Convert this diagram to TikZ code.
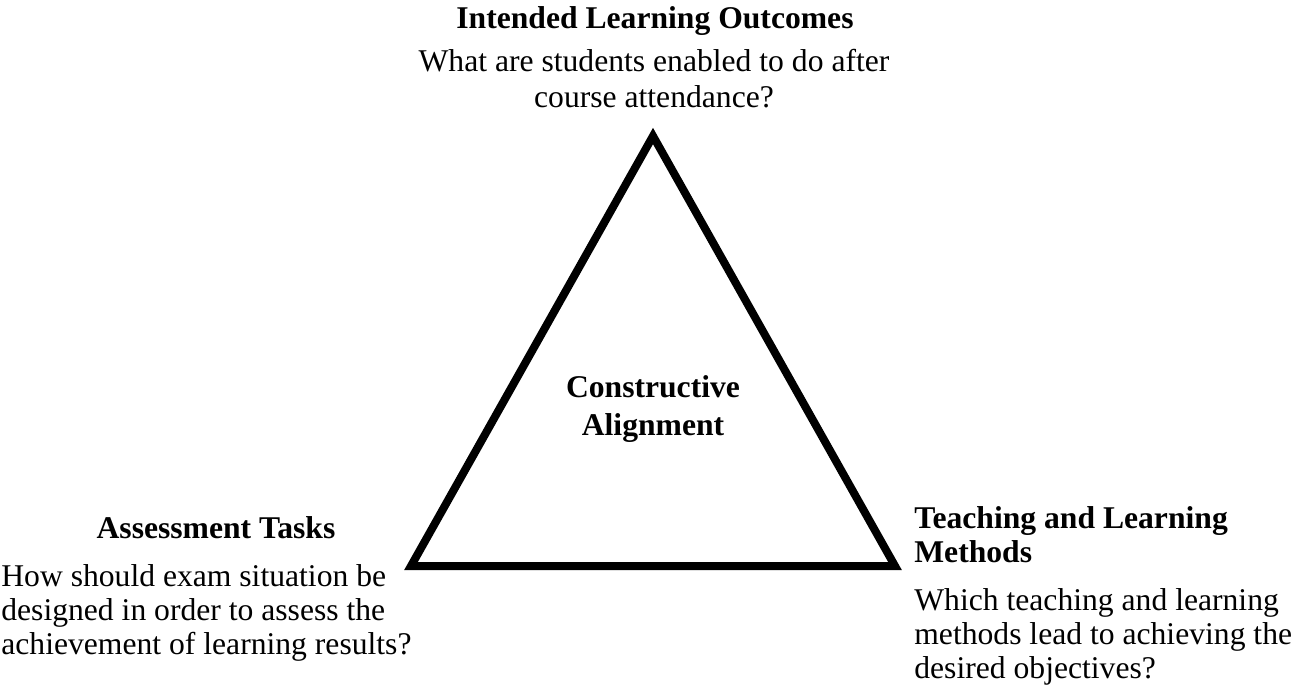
\documentclass[tikz,border=0pt]{standalone}
\usepackage{fontspec}
\setmainfont{Liberation Serif}
\usetikzlibrary{positioning}

\tikzset{
  headtext/.style={inner sep=0pt, font=\fontsize{18}{19}\selectfont\bfseries},
  asktext/.style={inner sep=0pt, font=\fontsize{18}{19.3}\selectfont}
}

\begin{document}
\begin{tikzpicture}
\useasboundingbox (0,0) rectangle (26,13.76);

% triangle
\coordinate (apex) at (13.06,11.04);
\coordinate (left) at (8.22,2.44);
\coordinate (right) at (17.9,2.44);
\draw [black, line width=0.16cm] (apex)--(left)--(right)--cycle;

% centre (base = last line)
\node[headtext, align=center, anchor=base, font=\fontsize{18}{21.5}\selectfont\bfseries] (centre) at (13.06,5.06)
{Constructive\\Alignment};

% top
\node[headtext, anchor=base] (iloHead) at (13.1,13.18) {Intended Learning Outcomes};
\node[asktext, align=center, anchor=base, font=\fontsize{18}{21}\selectfont] (iloAsk) at (13.08,11.6)
{What are students enabled to do after\\course attendance?};

% bottom left
\node[headtext, anchor=base] (atHead) at (4.32,3.0) {Assessment Tasks};
\node[asktext, align=left, anchor=base west] (atAsk) at (0.02,0.68)
{How should exam situation be\\designed in order to assess the\\achievement of learning results?};

% bottom right
\node[headtext, align=left, anchor=base west] (tlmHead) at (18.28,2.52)
{Teaching and Learning\\Methods};
\node[asktext, align=left, anchor=base west] (tlmAsk) at (18.28,0.2)
{Which teaching and learning\\methods lead to achieving the\\desired objectives?};

\end{tikzpicture}
\end{document}
